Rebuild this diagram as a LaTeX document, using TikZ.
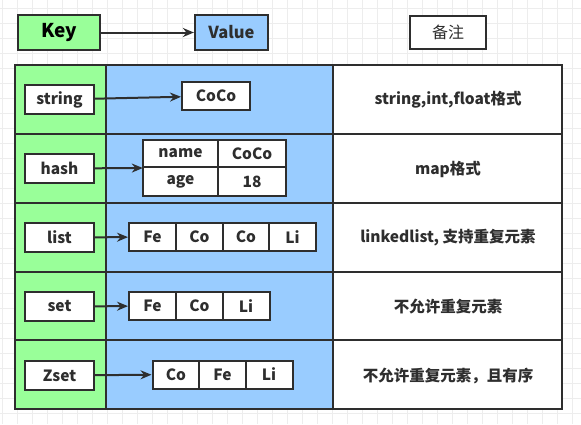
\documentclass[tikz,border=0pt]{standalone}
\usepackage{fontspec}
\setmainfont{Noto Sans CJK SC}
\usetikzlibrary{arrows.meta}
\definecolor{dark}{HTML}{2E2E2E}
\definecolor{kgreen}{HTML}{99FF99}
\definecolor{vblue}{HTML}{99CCFF}
\definecolor{gridc}{HTML}{EDEDED}
\tikzset{
  box/.style={draw=dark, line width=2pt, fill=white, inner sep=0pt, minimum height=28pt, font=\fontsize{15.5}{15.5}\selectfont\bfseries, text=dark},
  keybox/.style={box, minimum width=69pt, minimum height=29pt},
  cell/.style={box, minimum width=47pt},
  conn/.style={draw=dark, line width=2pt, -{Stealth[length=11pt,width=9pt]}},
  note/.style={font=\fontsize{15.5}{15.5}\selectfont\bfseries, text=dark},
}
\begin{document}
\begin{tikzpicture}[x=1pt,y=-1pt]
\useasboundingbox (0,0) rectangle (581,424);
\fill[white] (0,0) rectangle (581,424);
\foreach \gx in {2,17,...,580} \draw[gridc, line width=0.8pt] (\gx,0) -- (\gx,424);
\foreach \gy in {8,23,...,424} \draw[gridc, line width=0.8pt] (0,\gy) -- (581,\gy);
% header
\node[box, fill=kgreen, line width=2.2pt, minimum width=82pt, minimum height=35pt, font=\fontsize{19}{19}\selectfont\bfseries, text=black] (key) at (59,32.5) {Key};
\node[box, fill=vblue, line width=2.2pt, minimum width=73pt, minimum height=35pt, font=\fontsize{16.5}{16.5}\selectfont\bfseries] (value) at (231.5,32.5) {Value};
\node[box, line width=2.2pt, minimum width=76pt, minimum height=33pt, font=\fontsize{16}{16}\selectfont] (remark) at (448,32.5) {备注};
\draw[conn] (key) -- (value);
% table
\fill[kgreen] (15,65) rectangle (106,409);
\fill[vblue] (106,65) rectangle (333,409);
\fill[white] (333,65) rectangle (562,409);
\draw[dark, line width=2.5pt] (106,65) -- (106,409) (333,65) -- (333,409);
\foreach \ry in {134,203,272,340} \draw[dark, line width=2.5pt] (15,\ry) -- (562,\ry);
\draw[dark, line width=2.5pt] (15,65) rectangle (562,409);
% row 1
\node[keybox] (kstring) at (59.5,99.5) {string};
\node[box, minimum width=68pt] (vcoco) at (216,96) {CoCo};
\draw[conn] (kstring) -- (vcoco);
\node[note] (n1) at (448,100) {string,int,float格式};
% row 2
\node[keybox] (khash) at (59.5,168.5) {hash};
\node[box, minimum width=75pt, minimum height=27pt] (hname) at (180.5,153.5) {name};
\node[box, minimum width=68pt, minimum height=27pt] (hcoco) at (252,153.5) {CoCo};
\node[box, minimum width=75pt, minimum height=29pt] (hage) at (180.5,181.5) {age};
\node[box, minimum width=68pt, minimum height=29pt] (hval) at (252,181.5) {18};
\node[draw=none, minimum width=143pt, minimum height=56pt, inner sep=0pt] (htab) at (214.5,168) {};
\draw[conn] (khash) -- (htab.west);
\node[note] (n2) at (448,169) {map格式};
% row 3
\node[keybox] (klist) at (59.5,237.5) {list};
\node[cell] (l1) at (152.5,237) {Fe};
\node[cell] (l2) at (199.5,237) {Co};
\node[cell] (l3) at (246,237) {Co};
\node[cell] (l4) at (292.5,237) {Li};
\draw[conn] (klist) -- (l1);
\node[note] (n3) at (448,238) {linkedlist, 支持重复元素};
% row 4
\node[keybox] (kset) at (59.5,306.5) {set};
\node[cell] (s1) at (152.5,306) {Fe};
\node[cell] (s2) at (199.5,306) {Co};
\node[cell] (s3) at (246,306) {Li};
\draw[conn] (kset) -- (s1);
\node[note] (n4) at (448,307) {不允许重复元素};
% row 5
\node[keybox] (kzset) at (59.5,375.5) {Zset};
\node[cell] (z1) at (176,374.5) {Co};
\node[cell] (z2) at (222.5,374.5) {Fe};
\node[cell] (z3) at (269,374.5) {Li};
\draw[conn] (kzset) -- (z1);
\node[note] (n5) at (448,376) {不允许重复元素，且有序};
\end{tikzpicture}
\end{document}
